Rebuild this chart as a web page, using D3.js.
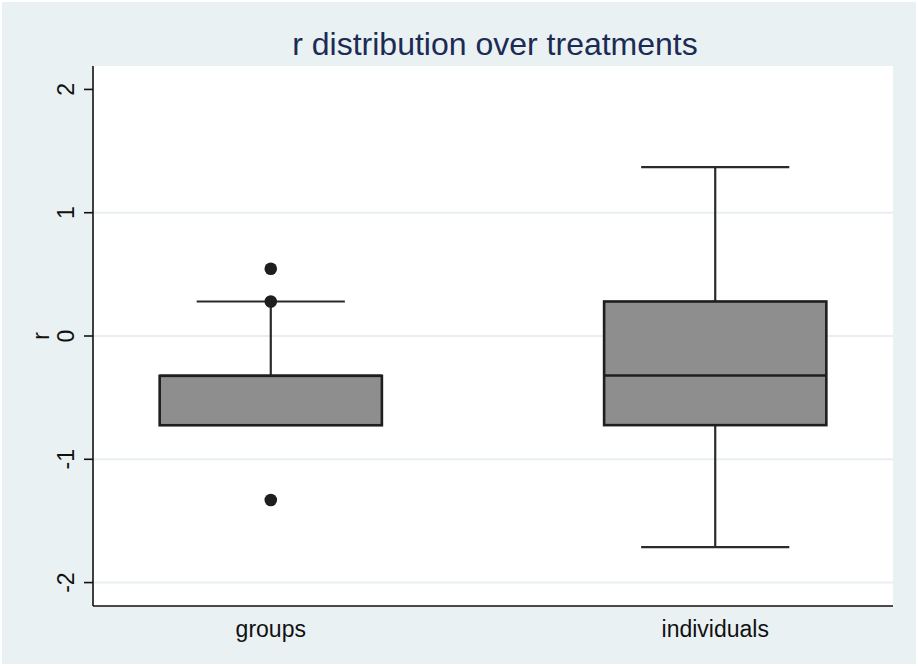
<!DOCTYPE html>
<html>
<head>
<meta charset="utf-8">
<script src="https://cdn.jsdelivr.net/npm/d3@7"></script>
<style>
  html, body { margin: 0; padding: 0; background: #ffffff; }
  svg { display: block; font-family: "Liberation Sans", Arial, Helvetica, sans-serif; }
</style>
</head>
<body>
<svg id="chart" width="918" height="666"></svg>
<script>
// Treatment groups and their box-plot summaries of r
const categories = ["groups", "individuals"];
const lowerWhisker = [-0.724, -1.713];
const lowerQuartile = [-0.724, -0.723];
const medians = [-0.323, -0.32];
const upperQuartile = [-0.323, 0.28];
const upperWhisker = [0.28, 1.37];
const outliers = [[0.545, 0.28, -1.33], []];
const yTicks = [-2, -1, 0, 1, 2];
const gridValues = [-2, -1, 0, 1];
const titleText = "r distribution over treatments";
const yTitle = "r";

const svg = d3.select("#chart");
const W = 918, H = 666;
const plot = { left: 93, right: 893, top: 66, bottom: 606 };

// outer graph region
svg.append("rect")
  .attr("x", 2).attr("y", 2).attr("width", W - 4).attr("height", H - 4)
  .attr("fill", "#eaf1f3");

// plot region
svg.append("rect")
  .attr("x", plot.left).attr("y", plot.top)
  .attr("width", plot.right - plot.left).attr("height", plot.bottom - plot.top)
  .attr("fill", "#ffffff");

const x = d3.scalePoint().domain(categories).range([plot.left, plot.right]).padding(0.4);
const y = d3.scaleLinear().domain([-2.19, 2.19]).range([plot.bottom, plot.top]);
const step = x.step();
const boxW = step * 0.5;
const capW = step / 3;

// horizontal grid lines
svg.append("g").selectAll("line").data(gridValues).join("line")
  .attr("x1", plot.left).attr("x2", plot.right)
  .attr("y1", d => y(d)).attr("y2", d => y(d))
  .attr("stroke", "#e8eff2").attr("stroke-width", 2);

// boxes
const data = categories.map((c, i) => ({
  c, lo: lowerWhisker[i], q1: lowerQuartile[i], med: medians[i],
  q3: upperQuartile[i], hi: upperWhisker[i], out: outliers[i]
}));

const g = svg.append("g");
data.forEach(d => {
  const cx = x(d.c);
  // whiskers and caps (only where the whisker leaves the box)
  [[d.q3, d.hi], [d.q1, d.lo]].forEach(([edge, end]) => {
    if (edge === end) return;
    g.append("line").attr("x1", cx).attr("x2", cx)
      .attr("y1", y(edge)).attr("y2", y(end))
      .attr("stroke", "#2a2a2a").attr("stroke-width", 2.2);
    g.append("line").attr("x1", cx - capW / 2).attr("x2", cx + capW / 2)
      .attr("y1", y(end)).attr("y2", y(end))
      .attr("stroke", "#2a2a2a").attr("stroke-width", 2.2);
  });
  // box
  g.append("rect")
    .attr("x", cx - boxW / 2).attr("y", y(d.q3))
    .attr("width", boxW).attr("height", y(d.q1) - y(d.q3))
    .attr("fill", "#8e8e8e").attr("stroke", "#1e1e1e").attr("stroke-width", 2.6);
  // median
  g.append("line").attr("x1", cx - boxW / 2).attr("x2", cx + boxW / 2)
    .attr("y1", y(d.med)).attr("y2", y(d.med))
    .attr("stroke", "#1e1e1e").attr("stroke-width", 2.4);
  // outside values
  g.selectAll(null).data(d.out).join("circle")
    .attr("cx", cx).attr("cy", v => y(v)).attr("r", 6.3)
    .attr("fill", "#1e1e1e");
});

// y axis
const yAxis = svg.append("g");
yAxis.append("line").attr("x1", plot.left).attr("x2", plot.left)
  .attr("y1", plot.top).attr("y2", plot.bottom)
  .attr("stroke", "#111").attr("stroke-width", 1.6);
yAxis.selectAll("line.tick").data(yTicks).join("line")
  .attr("class", "tick")
  .attr("x1", plot.left - 9).attr("x2", plot.left)
  .attr("y1", d => y(d)).attr("y2", d => y(d))
  .attr("stroke", "#111").attr("stroke-width", 1.6);
yAxis.selectAll("text").data(yTicks).join("text")
  .attr("transform", d => `translate(74,${y(d)}) rotate(-90)`)
  .attr("text-anchor", "middle")
  .attr("font-size", 23).attr("fill", "#111")
  .text(d => d);

svg.append("text")
  .attr("transform", `translate(49,${y(0)}) rotate(-90)`)
  .attr("text-anchor", "middle")
  .attr("font-size", 23).attr("fill", "#111")
  .text(yTitle);

// x axis
svg.append("line").attr("x1", plot.left).attr("x2", plot.right)
  .attr("y1", plot.bottom).attr("y2", plot.bottom)
  .attr("stroke", "#111").attr("stroke-width", 1.6);
svg.append("g").selectAll("text").data(categories).join("text")
  .attr("x", d => x(d)).attr("y", 637)
  .attr("text-anchor", "middle")
  .attr("font-size", 23).attr("fill", "#111")
  .text(d => d);

// title
svg.append("text")
  .attr("x", (plot.left + plot.right) / 2 + 2).attr("y", 55)
  .attr("text-anchor", "middle")
  .attr("font-size", 32).attr("fill", "#1c2b53")
  .text(titleText);
</script>
</body>
</html>
